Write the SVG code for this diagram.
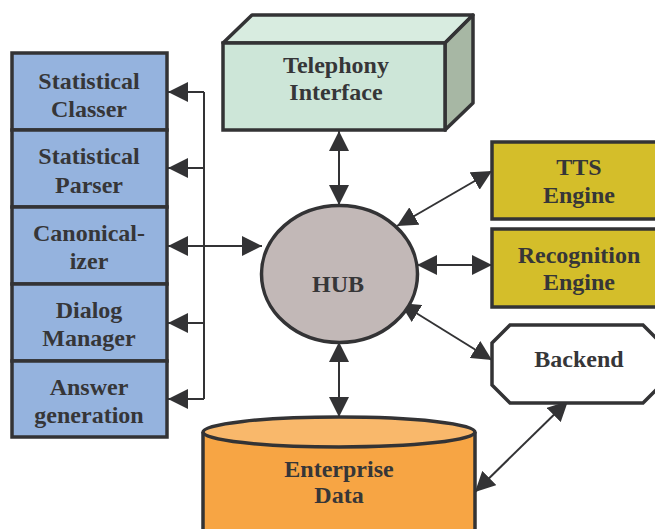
<svg xmlns="http://www.w3.org/2000/svg" width="655" height="529" viewBox="0 0 655 529">
<defs>
<style>
.t{font-family:"Liberation Serif","Times New Roman",serif;font-weight:bold;font-size:24px;fill:#363638;text-anchor:middle}
.b{stroke:#333335;stroke-width:3.5}
.c{stroke:#333335;stroke-width:2;fill:none}
</style>
<marker id="ah" viewBox="0 0 20 20" refX="20" refY="10" markerWidth="20" markerHeight="20" markerUnits="userSpaceOnUse" orient="auto-start-reverse">
<path d="M0,0 L20,10 L0,20 z" fill="#333335"/>
</marker>
</defs>
<rect width="655" height="529" fill="#ffffff"/>

<g id="connectors">
<line class="c" x1="204" y1="92" x2="204" y2="399"/>
<line class="c" x1="204" y1="92" x2="168" y2="92" marker-end="url(#ah)"/>
<line class="c" x1="204" y1="168" x2="168" y2="168" marker-end="url(#ah)"/>
<line class="c" x1="168" y1="246" x2="262" y2="246" marker-start="url(#ah)" marker-end="url(#ah)"/>
<line class="c" x1="204" y1="323" x2="168" y2="323" marker-end="url(#ah)"/>
<line class="c" x1="204" y1="399" x2="168" y2="399" marker-end="url(#ah)"/>
<line class="c" x1="339" y1="131" x2="339" y2="205" marker-start="url(#ah)" marker-end="url(#ah)"/>
<line class="c" x1="339" y1="342" x2="339" y2="417" marker-start="url(#ah)" marker-end="url(#ah)"/>
<line class="c" x1="397" y1="226" x2="492" y2="171" marker-start="url(#ah)" marker-end="url(#ah)"/>
<line class="c" x1="417" y1="265" x2="492" y2="265" marker-start="url(#ah)" marker-end="url(#ah)"/>
<line class="c" x1="400" y1="303" x2="492" y2="360" marker-start="url(#ah)" marker-end="url(#ah)"/>
<line class="c" x1="568" y1="401" x2="475" y2="492" marker-start="url(#ah)" marker-end="url(#ah)"/>
</g>

<g id="statistical-classer">
<rect class="b" x="12" y="53" width="155" height="77" fill="#95b3de"/>
<text class="t" x="89" y="89">Statistical</text>
<text class="t" x="89" y="117">Classer</text>
</g>
<g id="statistical-parser">
<rect class="b" x="12" y="130" width="155" height="77" fill="#95b3de"/>
<text class="t" x="89" y="164">Statistical</text>
<text class="t" x="89" y="193">Parser</text>
</g>
<g id="canonicalizer">
<rect class="b" x="12" y="207" width="155" height="77" fill="#95b3de"/>
<text class="t" x="89" y="241">Canonical-</text>
<text class="t" x="89" y="269">izer</text>
</g>
<g id="dialog-manager">
<rect class="b" x="12" y="284" width="155" height="77" fill="#95b3de"/>
<text class="t" x="89" y="318">Dialog</text>
<text class="t" x="89" y="346">Manager</text>
</g>
<g id="answer-generation">
<rect class="b" x="12" y="361" width="155" height="76" fill="#95b3de"/>
<text class="t" x="89" y="395">Answer</text>
<text class="t" x="89" y="423">generation</text>
</g>

<g id="telephony-interface">
<polygon class="b" points="223,43 252,15 473,15 445,43" fill="#d8ece0" stroke-linejoin="round"/>
<polygon class="b" points="445,43 473,15 473,103 445,130" fill="#a7b7a4" stroke-linejoin="round"/>
<rect class="b" x="223" y="43" width="222" height="87" fill="#cde6d8"/>
<text class="t" x="336" y="73">Telephony</text>
<text class="t" x="336" y="100">Interface</text>
</g>

<g id="hub">
<ellipse class="b" cx="339.5" cy="274" rx="78" ry="68.5" fill="#c2b8b7"/>
<text class="t" x="338" y="292">HUB</text>
</g>

<g id="tts-engine">
<rect class="b" x="492" y="142" width="175" height="77" fill="#d4be2a"/>
<text class="t" x="579" y="175">TTS</text>
<text class="t" x="579" y="203">Engine</text>
</g>
<g id="recognition-engine">
<rect class="b" x="492" y="229" width="175" height="78" fill="#d4be2a"/>
<text class="t" x="579" y="263">Recognition</text>
<text class="t" x="579" y="290">Engine</text>
</g>
<g id="backend">
<polygon class="b" points="510,325 643,325 663,345 663,383 643,403 510,403 492,385 492,343" fill="#ffffff"/>
<text class="t" x="579" y="367">Backend</text>
</g>

<g id="enterprise-data">
<path class="b" d="M203,432 L203,540 L475,540 L475,432" fill="#f7a544"/>
<ellipse class="b" cx="339" cy="432" rx="136" ry="15" fill="#f9b86b"/>
<text class="t" x="339" y="477">Enterprise</text>
<text class="t" x="339" y="503">Data</text>
</g>
</svg>
